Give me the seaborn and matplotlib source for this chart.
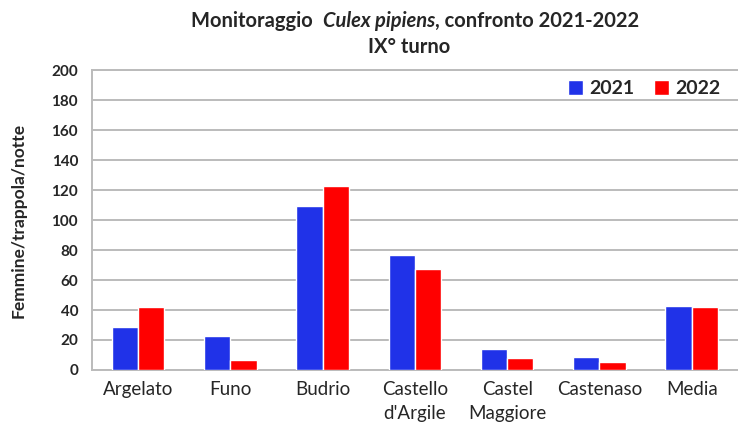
import matplotlib
matplotlib.use("Agg")
import matplotlib.pyplot as plt
import seaborn as sns
import pandas as pd

comuni = ["Argelato", "Funo", "Budrio", "Castello\nd'Argile", "Castel\nMaggiore", "Castenaso", "Media"]
valori_2021 = [28.5, 22.4, 109.5, 76.7, 13.8, 8.9, 42.9]
valori_2022 = [41.8, 6.4, 123.0, 67.2, 7.8, 5.1, 41.8]

df = pd.DataFrame({
    "comune": comuni * 2,
    "anno": ["2021"] * len(comuni) + ["2022"] * len(comuni),
    "valore": valori_2021 + valori_2022,
})

sns.set_style("white")
plt.rcParams["font.family"] = ["Lato", "DejaVu Sans"]

fig = plt.figure(figsize=(7.38, 4.34), dpi=100)
ax = fig.add_axes([0.1247, 0.1475, 0.875, 0.691])

sns.barplot(data=df, x="comune", y="valore", hue="anno",
            palette={"2021": "#2032E8", "2022": "#FF0000"}, saturation=1,
            width=0.57, gap=0, errorbar=None, ax=ax, zorder=3)

ax.set_ylim(0, 200)
ax.set_yticks(range(0, 201, 20))
ax.set_xlim(-0.5, len(comuni) - 0.5)
ax.grid(axis="y", color="#BBBBBB", linewidth=1.4, zorder=0)
ax.set_axisbelow(True)
for s in ["left", "bottom", "top"]:
    ax.spines[s].set_color("#BBBBBB")
    ax.spines[s].set_linewidth(1.4)
ax.spines["right"].set_visible(False)
ax.tick_params(length=0)
ax.tick_params(axis="y", labelsize=11, pad=10)
ax.tick_params(axis="x", labelsize=13.5, pad=8)
for t in ax.get_yticklabels():
    t.set_fontweight("bold")
for t in ax.get_xticklabels():
    t.set_linespacing(1.5)
ax.set_xlabel("")
ax.set_ylabel("Femmine/trappola/notte", fontsize=12.5, fontweight="bold", labelpad=18)

leg = ax.legend(loc="upper right", ncol=2, frameon=False,
                handlelength=0.8, handleheight=0.8, columnspacing=1.0,
                handletextpad=0.3, bbox_to_anchor=(1.0, 1.025),
                prop={"weight": "bold", "size": 14})

# titolo su due righe con parte in corsivo
fig.canvas.draw()
r = fig.canvas.get_renderer()
kw = dict(fontsize=14.5, fontweight="bold", va="baseline")
y1 = 1 - 27 / 434
parts = [("Monitoraggio  ", "normal"), ("Culex pipiens", "italic"), (", confronto 2021-2022", "normal")]
texts = [fig.text(0, y1, p, style=st, **kw) for p, st in parts]
widths = [t.get_window_extent(r).width for t in texts]
x = 415 - sum(widths) / 2
for t, w in zip(texts, widths):
    t.set_x(x / 738)
    x += w
fig.text(409 / 738, 1 - 53 / 434, "IX° turno", ha="center", **kw)

fig.savefig("out.png", dpi=100)
